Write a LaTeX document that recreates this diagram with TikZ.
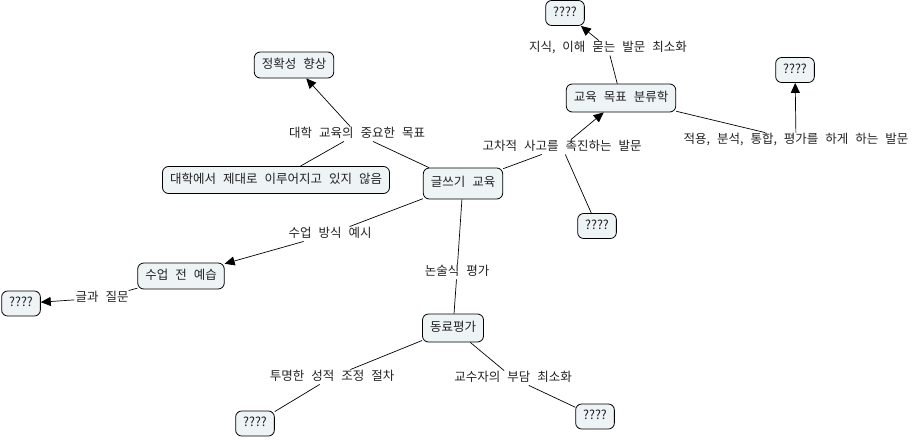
\documentclass[tikz,border=0pt]{standalone}
\usepackage{fontspec}
\setmainfont{Noto Sans CJK KR}[WordSpace=2.5]
\usetikzlibrary{arrows.meta}
\definecolor{nodefill}{HTML}{EEF3F6}
\definecolor{txt}{HTML}{222222}
\begin{document}
\begin{tikzpicture}[x=1pt,y=-1pt,
  concept/.style={draw=black, fill=nodefill, rounded corners=6pt, inner xsep=7.5pt, inner ysep=0pt,
    minimum height=26pt, text height=9.5pt, text depth=3pt, text=txt, line width=0.8pt,
    font=\fontsize{12.5}{14}\selectfont},
  lbl/.style={inner xsep=1pt, inner ysep=1pt, text height=9.5pt, text depth=3pt, text=txt,
    font=\fontsize{12.5}{14}\selectfont},
  link/.style={draw=black, line width=0.7pt},
  arr/.style={link, -{Triangle[length=10pt,width=9pt]}}]
\useasboundingbox (0,0) rectangle (917,439);

% concepts
\node[concept] (acc) at (294,65) {정확성 향상};
\node[concept, minimum height=27pt] (uni) at (276,180) {대학에서 제대로 이루어지고 있지 않음};
\node[concept, minimum height=31pt] (write) at (463,183.5) {글쓰기 교육};
\node[concept, minimum height=25pt] (q1) at (565,13) {????};
\node[concept, minimum height=28pt] (tax) at (621,98) {교육 목표 분류학};
\node[concept, minimum height=25pt] (q2) at (795,70) {????};
\node[concept, minimum height=25pt] (q3) at (597,226) {????};
\node[concept] (prep) at (181,276) {수업 전 예습};
\node[concept, minimum height=25pt] (q4) at (21,303.5) {????};
\node[concept, minimum height=28pt] (peer) at (453,328) {동료평가};
\node[concept, minimum height=25pt] (q5) at (255,423.5) {????};
\node[concept, minimum height=25pt] (q6) at (595,416.5) {????};

% link labels
\node[lbl] (l1) at (357,134) {대학 교육의 중요한 목표};
\node[lbl] (l2) at (562,147) {고차적 사고를 촉진하는 발문};
\node[lbl] (l3) at (608,48) {지식, 이해 묻는 발문 최소화};
\node[lbl] (l4) at (796,140) {적용, 분석, 통합, 평가를 하게 하는 발문};
\node[lbl] (l5) at (330,234) {수업 방식 예시};
\node[lbl] (l6) at (102,298) {글과 질문};
\node[lbl] (l7) at (457,272) {논술식 평가};
\node[lbl] (l8) at (332,377) {투명한 성적 조정 절차};
\node[lbl] (l9) at (513,378) {교수자의 부담 최소화};

% connectors
\draw[link] (write) -- (l1);
\draw[arr] (l1) -- (acc);
\draw[link] (l1) -- (uni);

\draw[link] (write) -- (l2);
\draw[arr] (l2) -- (tax);
\draw[link] (q3) -- (l2);

\draw[link] (tax) -- (l3);
\draw[arr] (l3) -- (q1);

\draw[link] (tax) -- (l4);
\draw[arr] (l4) -- (q2);

\draw[link] (write) -- (l5);
\draw[arr] (l5) -- (prep);

\draw[link] (prep) -- (l6);
\draw[arr] (l6) -- (q4);

\draw[link] (write) -- (l7);
\draw[link] (l7) -- (peer);

\draw[link] (peer) -- (l8);
\draw[link] (l8) -- (q5);

\draw[link] (peer) -- (l9);
\draw[link] (l9) -- (q6);
\end{tikzpicture}
\end{document}
